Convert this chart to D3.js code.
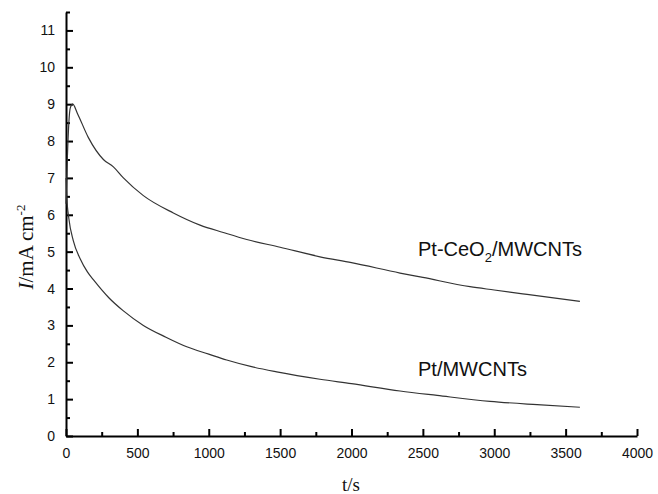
<!DOCTYPE html>
<html>
<head>
<meta charset="utf-8">
<script src="https://cdn.jsdelivr.net/npm/d3@7"></script>
<style>
  body { margin: 0; background: #fff; }
  svg { display: block; }
</style>
</head>
<body>
<div id="chart"></div>
<script>
// chronoamperometry curves
const tPtCeO2 = [0, 10, 20, 30, 47, 80, 156, 262, 332, 402, 542, 752, 939, 1102, 1266, 1500, 1779, 2000, 2340, 2500, 2830, 3000, 3230, 3600];
const iPtCeO2 = [6.3, 7.6, 8.5, 8.9, 9.0, 8.75, 8.1, 7.5, 7.3, 7.0, 6.52, 6.05, 5.72, 5.52, 5.33, 5.12, 4.86, 4.7, 4.42, 4.3, 4.05, 3.96, 3.84, 3.65];
const tPt = [0, 5, 20, 51, 100, 150, 200, 300, 400, 542, 700, 846, 1000, 1126, 1300, 1476, 1779, 2000, 2340, 2600, 2970, 3300, 3600];
const iPt = [7.0, 6.5, 5.9, 5.3, 4.8, 4.45, 4.2, 3.75, 3.4, 3.0, 2.68, 2.42, 2.22, 2.06, 1.88, 1.74, 1.54, 1.42, 1.22, 1.1, 0.94, 0.85, 0.78];
const xTicks = [0, 500, 1000, 1500, 2000, 2500, 3000, 3500, 4000];
const yTicks = [0, 1, 2, 3, 4, 5, 6, 7, 8, 9, 10, 11];

const width = 658, height = 494;
const plotLeft = 66, plotRight = 637, plotTop = 12, plotBottom = 436;

const svg = d3.select("#chart").append("svg")
    .attr("width", width)
    .attr("height", height);

const x = d3.scaleLinear().domain([0, 4000]).range([plotLeft, plotRight]);
const y = d3.scaleLinear().domain([0, 11.5]).range([plotBottom, plotTop]);

// minor ticks first so major ones draw on top
svg.append("g")
    .attr("transform", `translate(0,${plotBottom})`)
    .call(d3.axisBottom(x).tickValues(d3.range(250, 4000, 500)).tickSizeInner(-4).tickSizeOuter(0).tickFormat(""))
    .call(g => g.select(".domain").remove());
svg.append("g")
    .attr("transform", `translate(${plotLeft},0)`)
    .call(d3.axisLeft(y).tickValues(d3.range(0.5, 11.6, 1)).tickSizeInner(-4).tickSizeOuter(0).tickFormat(""))
    .call(g => g.select(".domain").remove());

svg.append("g")
    .attr("transform", `translate(0,${plotBottom})`)
    .call(d3.axisBottom(x).tickValues(xTicks).tickFormat(d3.format("d"))
        .tickSizeInner(-7).tickSizeOuter(0).tickPadding(12));
svg.append("g")
    .attr("transform", `translate(${plotLeft},0)`)
    .call(d3.axisLeft(y).tickValues(yTicks).tickFormat(d3.format("d"))
        .tickSizeInner(-7).tickSizeOuter(0).tickPadding(11));

svg.selectAll(".tick line, .domain")
    .attr("stroke", "#000")
    .attr("stroke-width", 2);
svg.selectAll(".tick text")
    .attr("fill", "#111")
    .style("font-family", "Liberation Sans, Arial, sans-serif")
    .style("font-size", "14px");

// curves
const line = d3.line()
    .x(d => x(d[0]))
    .y(d => y(d[1]))
    .curve(d3.curveMonotoneX);

[[tPtCeO2, iPtCeO2], [tPt, iPt]].forEach(([ts, vs]) => {
    svg.append("path")
        .datum(ts.map((t, i) => [t, vs[i]]))
        .attr("fill", "none")
        .attr("stroke", "#333")
        .attr("stroke-width", 1.2)
        .attr("d", line);
});

// series labels
const lab1 = svg.append("text")
    .attr("x", 418).attr("y", 256)
    .style("font-family", "Liberation Sans, Arial, sans-serif")
    .style("font-size", "20px")
    .attr("fill", "#111");
lab1.append("tspan").text("Pt-CeO");
lab1.append("tspan").attr("dy", 6).style("font-size", "13px").text("2");
lab1.append("tspan").attr("dy", -6).text("/MWCNTs");

svg.append("text")
    .attr("x", 418).attr("y", 376)
    .style("font-family", "Liberation Sans, Arial, sans-serif")
    .style("font-size", "20px")
    .attr("fill", "#111")
    .text("Pt/MWCNTs");

// axis titles
svg.append("text")
    .attr("x", 351).attr("y", 491)
    .attr("text-anchor", "middle")
    .style("font-family", "Liberation Serif, Times New Roman, serif")
    .style("font-size", "19px")
    .attr("fill", "#111")
    .text("t/s");

const yt = svg.append("text")
    .attr("transform", "translate(33,247) rotate(-90)")
    .attr("text-anchor", "middle")
    .style("font-family", "Liberation Serif, Times New Roman, serif")
    .style("font-size", "21px")
    .attr("fill", "#111");
yt.append("tspan").style("font-style", "italic").text("I");
yt.append("tspan").text("/mA cm");
yt.append("tspan").attr("dy", -8).style("font-size", "13px").text("-2");
</script>
</body>
</html>
